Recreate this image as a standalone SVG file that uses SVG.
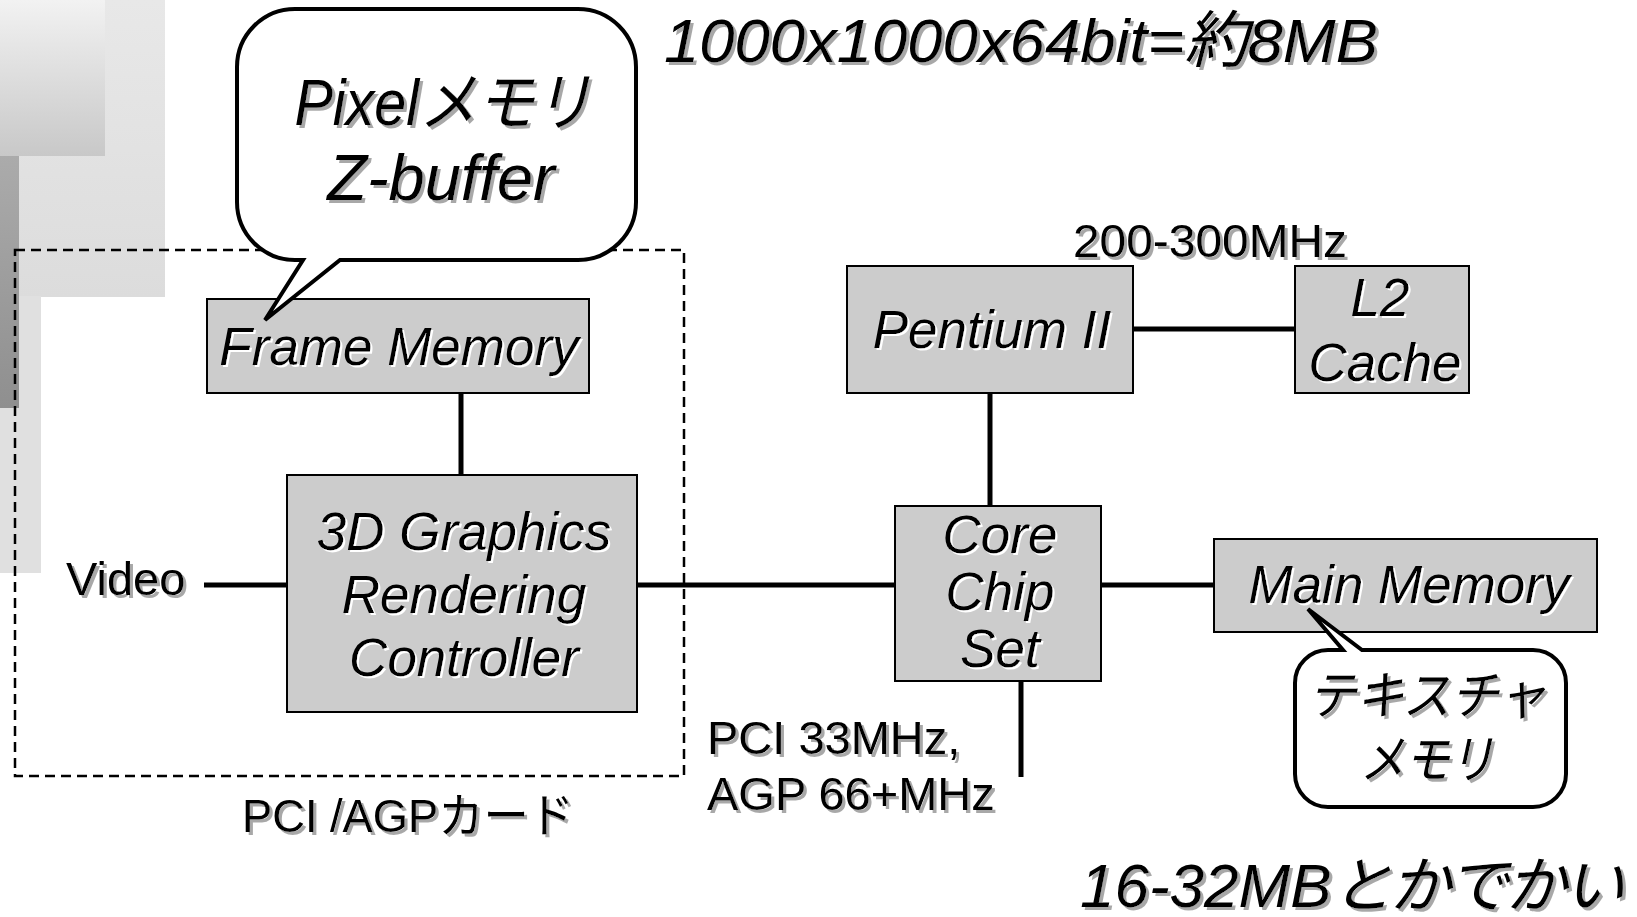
<svg xmlns="http://www.w3.org/2000/svg" width="1637" height="917" viewBox="0 0 1637 917">
<defs>
<linearGradient id="gA" x1="0" y1="0" x2="0" y2="1"><stop offset="0" stop-color="#f2f2f2"/><stop offset="1" stop-color="#c8c8c8"/></linearGradient>
<linearGradient id="gB" x1="0" y1="0" x2="0" y2="1"><stop offset="0" stop-color="#e8e8e8"/><stop offset="1" stop-color="#dcdcdc"/></linearGradient>
<linearGradient id="gC" x1="0" y1="0" x2="0" y2="1"><stop offset="0" stop-color="#ababab"/><stop offset="1" stop-color="#8f8f8f"/></linearGradient>
<filter id="sh" x="-5%" y="-20%" width="110%" height="150%">
<feOffset in="SourceAlpha" dx="2.5" dy="2.5" result="o"/>
<feFlood flood-color="#a8a8a8"/>
<feComposite in2="o" operator="in" result="s"/>
<feMerge><feMergeNode in="s"/><feMergeNode in="SourceGraphic"/></feMerge>
</filter>
<filter id="shw" x="-5%" y="-20%" width="110%" height="150%">
<feOffset in="SourceAlpha" dx="2" dy="2" result="o"/>
<feFlood flood-color="#ffffff"/>
<feComposite in2="o" operator="in" result="s"/>
<feMerge><feMergeNode in="s"/><feMergeNode in="SourceGraphic"/></feMerge>
</filter>
</defs>
<style>
text{font-family:"Liberation Sans",Arial,"Noto Sans CJK JP",sans-serif;fill:#000}
.box{fill:#cccccc;stroke:#000;stroke-width:2}
.bub{fill:#fff;stroke:#000;stroke-width:4;stroke-linejoin:miter}
.lbl{font-size:53px;font-style:italic;text-anchor:middle;filter:url(#shw)}
.big{font-size:62px;font-style:italic;filter:url(#sh)}
.bt{font-style:italic;text-anchor:middle;filter:url(#sh)}
.pl{font-size:47px;filter:url(#sh)}
.ln{stroke:#000;stroke-width:5;fill:none}
</style>
<rect width="1637" height="917" fill="#fff"/>
<g id="decor">
<rect x="0" y="0" width="165" height="297" fill="url(#gB)"/>
<rect x="0" y="0" width="105" height="156" fill="url(#gA)"/>
<rect x="0" y="296" width="41" height="277" fill="#e0e0e0"/>
<rect x="0" y="156" width="19" height="252" fill="url(#gC)"/>
</g>
<g id="card-boundary">
<rect x="15" y="250" width="669" height="526" fill="none" stroke="#000" stroke-width="2.5" stroke-dasharray="10 6"/>
</g>
<g id="connectors">
<line class="ln" x1="461" y1="393" x2="461" y2="475"/>
<line class="ln" x1="204" y1="585" x2="287" y2="585"/>
<line class="ln" x1="637" y1="585" x2="895" y2="585"/>
<line class="ln" x1="990" y1="393" x2="990" y2="506"/>
<line class="ln" x1="1133" y1="329" x2="1295" y2="329"/>
<line class="ln" x1="1101" y1="585" x2="1214" y2="585"/>
<line class="ln" x1="1021" y1="681" x2="1021" y2="777"/>
</g>
<g id="frame-memory">
<rect class="box" x="207" y="299" width="382" height="94"/>
<text class="lbl" x="399" y="365">Frame Memory</text>
</g>
<g id="graphics-controller">
<rect class="box" x="287" y="475" width="350" height="237"/>
<text class="lbl" x="464" y="550">3D Graphics</text>
<text class="lbl" x="464" y="613">Rendering</text>
<text class="lbl" x="464" y="676">Controller</text>
</g>
<g id="pentium">
<rect class="box" x="847" y="266" width="286" height="127"/>
<text class="lbl" x="992" y="348">Pentium II</text>
</g>
<g id="l2-cache">
<rect class="box" x="1295" y="266" width="174" height="127"/>
<text class="lbl" x="1380" y="316">L2</text>
<text class="lbl" x="1385" y="381">Cache</text>
</g>
<g id="core-chipset">
<rect class="box" x="895" y="506" width="206" height="175"/>
<text class="lbl" x="1000" y="553">Core</text>
<text class="lbl" x="1000" y="610">Chip</text>
<text class="lbl" x="1000" y="667">Set</text>
</g>
<g id="main-memory">
<rect class="box" x="1214" y="539" width="383" height="93"/>
<text class="lbl" x="1409" y="603">Main Memory</text>
</g>
<g id="bubble-pixel">
<path class="bub" d="M295,9 H578 A58 58 0 0 1 636,67 V202 A58 58 0 0 1 578,260 H340 L265,320 L303,260 H295 A58 58 0 0 1 237,202 V67 A58 58 0 0 1 295,9 Z"/>
<text class="bt" x="443" y="125" font-size="64" textLength="297" lengthAdjust="spacingAndGlyphs">Pixelメモリ</text>
<text class="bt" x="441" y="200" font-size="65">Z-buffer</text>
</g>
<g id="bubble-texture">
<path class="bub" d="M1328,650 H1343 L1308,609 L1362,650 H1533 A33 33 0 0 1 1566,683 V774 A33 33 0 0 1 1533,807 H1328 A33 33 0 0 1 1295,774 V683 A33 33 0 0 1 1328,650 Z"/>
<text class="bt" x="1427" y="714" font-size="52" textLength="238" lengthAdjust="spacingAndGlyphs">テキスチャ</text>
<text class="bt" x="1427" y="778" font-size="52" textLength="134" lengthAdjust="spacingAndGlyphs">メモリ</text>
</g>
<g id="labels">
<text class="big" x="664" y="62" textLength="714" lengthAdjust="spacingAndGlyphs">1000x1000x64bit=約8MB</text>
<text class="big" x="1080" y="907" font-size="63">16-32MB<tspan font-size="61" letter-spacing="-3">とかでかい</tspan></text>
<text class="pl" x="1073" y="257" textLength="274" lengthAdjust="spacingAndGlyphs">200-300MHz</text>
<text class="pl" x="66" y="595">Video</text>
<text class="pl" x="242" y="832" textLength="332" lengthAdjust="spacingAndGlyphs">PCI /AGPカード</text>
<text class="pl" x="707" y="754">PCI 33MHz,</text>
<text class="pl" x="707" y="810">AGP 66+MHz</text>
</g>
</svg>
